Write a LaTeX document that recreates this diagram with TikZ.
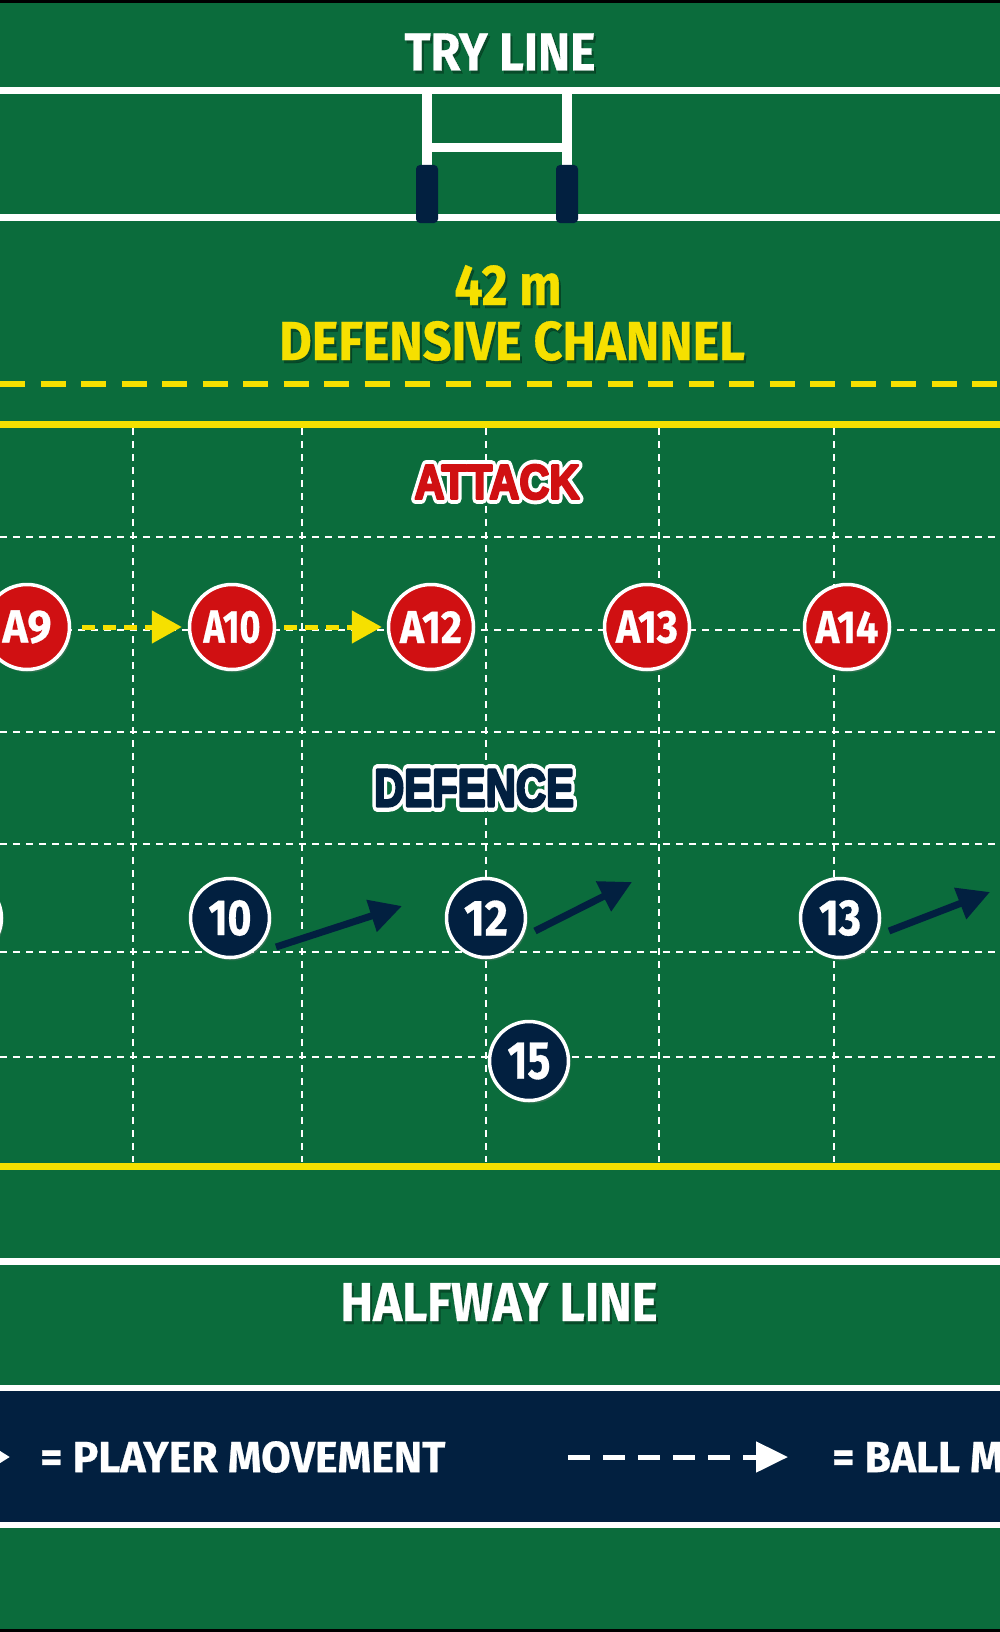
\documentclass[tikz,border=0pt]{standalone}
\usepackage{fontspec}
\usetikzlibrary{arrows.meta,shadows}
\newfontfamily\firab[FakeBold=0.6]{Fira Sans}
\newfontfamily\libb[FakeBold=5]{Liberation Sans}
\newfontfamily\libout[FakeBold=21]{Liberation Sans}
\definecolor{pitch}{RGB}{11,108,60}
\definecolor{navy}{RGB}{2,32,64}
\definecolor{attred}{RGB}{208,16,18}
\definecolor{lineyellow}{RGB}{246,224,0}
\newcommand\fitbox[3]{\resizebox{#1pt}{#2pt}{\firab\bfseries #3}}
\newcommand\heavybox[3]{\resizebox{#1pt}{#2pt}{\libb\bfseries #3}}
\newcommand\outbox[3]{\resizebox{#1pt}{#2pt}{\libout\bfseries #3}}
\tikzset{
  wline/.style={draw=white, line width=7pt},
  yline/.style={draw=lineyellow, line width=7pt},
  gridline/.style={draw=white, line width=2.2pt, dash pattern=on 7pt off 6pt},
  lab/.style={inner sep=0pt, text=white},
  labshadow/.style={inner sep=0pt, text=black, opacity=.3},
  sectlab/.style={inner sep=0pt, line join=round, miter limit=1},
  attnode/.style={circle, fill=attred, draw=white, line width=3.5pt, minimum size=85pt, inner sep=0pt, text=white,
    drop shadow={opacity=.3, shadow xshift=2pt, shadow yshift=-3pt}},
  defnode/.style={circle, fill=navy, draw=white, line width=3.5pt, minimum size=79pt, inner sep=0pt, text=white,
    drop shadow={opacity=.3, shadow xshift=2pt, shadow yshift=-3pt}},
  ballarrow/.style={draw=lineyellow, line width=5pt, dash pattern=on 13pt off 8pt,
    -{Triangle[length=30pt,width=32pt,fill=lineyellow]}},
  movearrow/.style={draw=navy, line width=7pt, -{Triangle[length=32pt,width=32pt,fill=navy]}},
}
\begin{document}
\begin{tikzpicture}[x=1pt,y=-1pt]
\useasboundingbox (0,0) rectangle (1000,1632);
\clip (0,0) rectangle (1000,1632);
\fill[pitch] (0,0) rectangle (1000,1632);
\fill[black] (0,0) rectangle (1000,3);
\fill[black] (0,1629) rectangle (1000,1632);

% try line area
\draw[wline] (0,91) -- (1000,91);
\draw[wline] (0,217) -- (1000,217);
\fill[white] (422,91) rectangle (432,168);
\fill[white] (562,91) rectangle (572,168);
\fill[white] (432,143) rectangle (562,152);
\fill[navy, rounded corners=4pt] (416,165) rectangle (438,223);
\fill[navy, rounded corners=4pt] (556,165) rectangle (578,223);

\node[labshadow] (trysh) at (502,55) {\fitbox{191}{37}{TRY LINE}};
\node[lab] (tryline) at (500,52) {\fitbox{191}{37}{TRY LINE}};

% channel labels
\node[labshadow] (m42sh) at (510,288) {\fitbox{107}{40}{42 m}};
\node[lab, text=lineyellow] (m42) at (508,285) {\fitbox{107}{40}{42 m}};
\node[labshadow] (chsh) at (514,344) {\fitbox{466}{39}{DEFENSIVE CHANNEL}};
\node[lab, text=lineyellow] (channel) at (512,341) {\fitbox{466}{39}{DEFENSIVE CHANNEL}};

\draw[draw=lineyellow, line width=6pt, dash pattern=on 25pt off 15.5pt] (0,384) -- (1000,384);
\draw[yline] (0,424) -- (1000,424);
\draw[yline] (0,1166) -- (1000,1166);

% grid
\foreach \gy in {537,630,732,844,952,1057}{
  \draw[gridline] (0,\gy) -- (1000,\gy);
}
\foreach \gx in {133,302,486,659,834}{
  \draw[gridline] (\gx,428) -- (\gx,1162);
}

% section labels (white outline = heavily emboldened copy)
\node[sectlab, text=white] (attout) at (497,482) {\outbox{165}{34}{ATTACK}};
\node[sectlab, text=white] (defout) at (474,788) {\outbox{200}{37}{DEFENCE}};
\node[sectlab, text=attred] (attacklbl) at (497,482) {\heavybox{165}{34}{ATTACK}};
\node[sectlab, text=navy] (defencelbl) at (474,788) {\heavybox{200}{37}{DEFENCE}};

% attack players
\node[attnode] (a9)  at (27,627)  {\fitbox{49}{32}{A9}};
\node[attnode] (a10) at (232,627) {\fitbox{57}{32}{A10}};
\node[attnode] (a12) at (431,627) {\fitbox{62}{32}{A12}};
\node[attnode] (a13) at (647,627) {\fitbox{62}{32}{A13}};
\node[attnode] (a14) at (847,627) {\fitbox{63}{32}{A14}};

\draw[ballarrow, shorten <=11pt, shorten >=6pt] (a9) -- (a10);
\draw[ballarrow, shorten <=8pt, shorten >=5pt] (a10) -- (a12);

% defence players
\node[defnode] (d9)  at (-38,918) {};
\node[defnode] (d10) at (230,918) {\fitbox{43}{35}{10}};
\node[defnode] (d12) at (486,918) {\fitbox{44}{35}{12}};
\node[defnode] (d13) at (840,918) {\fitbox{42}{35}{13}};
\node[defnode] (d15) at (529,1061) {\fitbox{43}{36}{15}};

\coordinate (m10s) at (276,947);
\coordinate (m10e) at (402,906);
\coordinate (m12s) at (535,931);
\coordinate (m12e) at (632,882);
\coordinate (m13s) at (889,931);
\coordinate (m13e) at (990,892);
\draw[movearrow] (m10s) -- (m10e);
\draw[movearrow] (m12s) -- (m12e);
\draw[movearrow] (m13s) -- (m13e);

% halfway
\draw[wline] (0,1261) -- (1000,1261);
\node[labshadow] (halfsh) at (501,1305) {\fitbox{317}{38}{HALFWAY LINE}};
\node[lab] (halfway) at (499,1302) {\fitbox{317}{38}{HALFWAY LINE}};

% legend
\fill[navy] (0,1391) rectangle (1000,1522);
\draw[draw=white, line width=6pt] (0,1388) -- (1000,1388);
\draw[draw=white, line width=6pt] (0,1525) -- (1000,1525);
\coordinate (lgA) at (-80,1457);
\coordinate (lgB) at (10,1457);
\draw[draw=white, line width=6pt, -{Triangle[length=24pt,width=28pt,fill=white]}] (lgA) -- (lgB);
\node[lab, anchor=west] (lgplayer) at (40,1457) {\fitbox{405}{31}{= PLAYER MOVEMENT}};
\coordinate (lgC) at (568,1457);
\coordinate (lgD) at (788,1457);
\draw[draw=white, line width=5pt, dash pattern=on 22pt off 13pt, -{Triangle[length=32pt,width=30pt,fill=white]}] (lgC) -- (lgD);
\node[lab, anchor=west] (lgball) at (832,1457) {\fitbox{355}{31}{= BALL MOVEMENT}};
\end{tikzpicture}
\end{document}
